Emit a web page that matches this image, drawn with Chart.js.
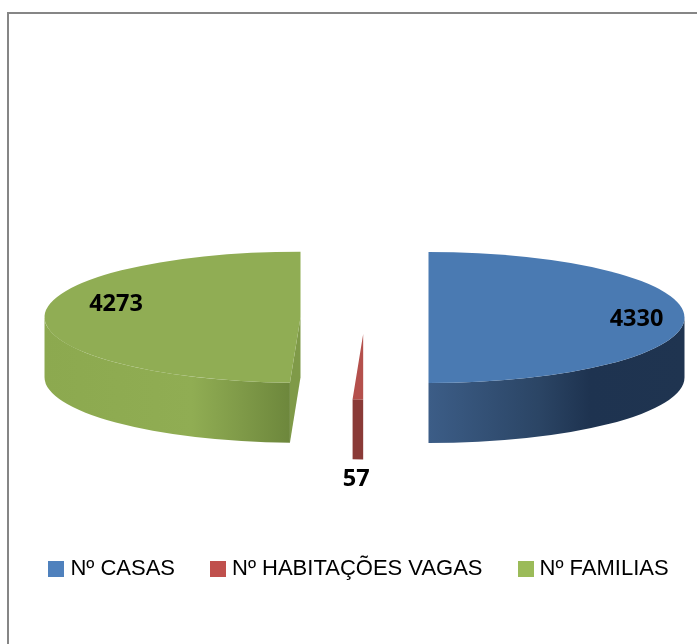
<!DOCTYPE html>
<html>
<head>
<meta charset="utf-8">
<title>Casas, habitações vagas e famílias</title>
<script src="https://cdn.jsdelivr.net/npm/chart.js@4"></script>
<style>
  html, body { margin: 0; padding: 0; background: #fff; overflow: hidden; }
  #frame { position: absolute; left: 7px; top: 12px; width: 720px; height: 680px; border: 2px solid #868686; }
  canvas { position: absolute; left: 0; top: 0; }
</style>
</head>
<body>
<div id="frame"></div>
<canvas id="pie3d" width="697" height="644"></canvas>
<script>
const categories = ['Nº CASAS', 'Nº HABITAÇÕES VAGAS', 'Nº FAMILIAS'];
const values = [4330, 57, 4273];

const topColors = ['#4a7ab2', '#b4504c', '#90ad54'];
const legendColors = ['#4f81bd', '#c0504d', '#9bbb59'];

// side wall shading, left to right
const sideStops = [
  [[0, '#3c5d87'], [0.43, '#2b4565'], [0.63, '#1e3350'], [1, '#1f3450']],
  [[0, '#8a3a37'], [1, '#8a3a37']],
  [[0, '#8ca94f'], [0.6, '#90ad53'], [0.8, '#7f9a48'], [1, '#6d873c']]
];
const cutColor = '#7f9a48';

const tilt = 0.256;   // how flat the disc looks
const depth = 60;     // wall height in px
const explode = 64;   // slices pushed out from the centre
const pieShift = 16;  // pie sits right of the canvas centre
const legendShift = 12.5;

// label nudge from the slice's own centre, px
const labelShift = [[208, 1.5], [-7, 145], [-184.5, -13]];

// legend swatch as an image: the built-in box leaves too wide a gap before the text
function swatch(color) {
  const c = document.createElement('canvas');
  c.width = 16;
  c.height = 16;
  const g = c.getContext('2d');
  g.fillStyle = color;
  g.fillRect(0, 0, 16, 16);
  return c;
}

function sliceGeometry(chart, arc) {
  const base = (chart.chartArea.top + chart.chartArea.bottom) / 2;
  return {
    cx: arc.x,
    cy: base + (arc.y - base) * tilt,
    r: arc.outerRadius,
    start: arc.startAngle,
    end: arc.endAngle
  };
}

const pie3d = {
  id: 'pie3d',
  afterLayout(chart) {
    chart.legend.left += legendShift;
    chart.legend.right += legendShift;
  },
  afterDatasetsUpdate(chart) {
    // explode here: the arc "offset" option eats into small slices
    chart.getDatasetMeta(0).data.forEach(arc => {
      const mid = (arc.startAngle + arc.endAngle) / 2;
      arc.x += pieShift + Math.cos(mid) * explode;
      arc.y += Math.sin(mid) * explode;
    });
  },
  beforeDatasetsDraw(chart) {
    const ctx = chart.ctx;
    const arcs = chart.getDatasetMeta(0).data;
    arcs.forEach((arc, i) => {
      const g = sliceGeometry(chart, arc);
      const from = Math.max(g.start, 0);
      const to = Math.min(g.end, Math.PI);

      const x0 = g.cx + Math.cos(to) * g.r;
      const x1 = g.cx + Math.cos(from) * g.r;
      const grad = ctx.createLinearGradient(x0, 0, x1, 0);
      sideStops[i].forEach(s => grad.addColorStop(s[0], s[1]));

      // cut face, only the one turned to the viewer
      if (Math.cos(g.start) < -0.001 && Math.sin(g.start) > 0) {
        const ex = g.cx + Math.cos(g.start) * g.r;
        const ey = g.cy + Math.sin(g.start) * g.r * tilt;
        ctx.fillStyle = cutColor;
        ctx.beginPath();
        ctx.moveTo(g.cx, g.cy);
        ctx.lineTo(ex, ey);
        ctx.lineTo(ex, ey + depth);
        ctx.lineTo(g.cx, g.cy + depth);
        ctx.closePath();
        ctx.fill();
      }

      ctx.fillStyle = grad;
      ctx.beginPath();
      ctx.ellipse(g.cx, g.cy, g.r, g.r * tilt, 0, from, to);
      ctx.ellipse(g.cx, g.cy + depth, g.r, g.r * tilt, 0, to, from, true);
      ctx.closePath();
      ctx.fill();
    });

    // flatten the library's own arcs
    const base = (chart.chartArea.top + chart.chartArea.bottom) / 2;
    ctx.save();
    ctx.translate(0, base);
    ctx.scale(1, tilt);
    ctx.translate(0, -base);
  },
  afterDatasetsDraw(chart) {
    const ctx = chart.ctx;
    ctx.restore();

    ctx.save();
    ctx.font = 'bold 23.5px "Open Sans"';
    ctx.fillStyle = '#000';
    ctx.textAlign = 'center';
    ctx.textBaseline = 'middle';
    chart.getDatasetMeta(0).data.forEach((arc, i) => {
      const g = sliceGeometry(chart, arc);
      ctx.fillText(String(values[i]), g.cx + labelShift[i][0], g.cy + labelShift[i][1]);
    });
    ctx.restore();
  }
};

new Chart(document.getElementById('pie3d'), {
  type: 'pie',
  data: {
    labels: categories,
    datasets: [{
      data: values,
      backgroundColor: topColors,
      borderWidth: 0
    }]
  },
  options: {
    responsive: false,
    animation: false,
    events: [],
    radius: 256,
    layout: { padding: { top: 117, bottom: 54 } },
    plugins: {
      tooltip: { enabled: false },
      legend: {
        position: 'bottom',
        labels: {
          usePointStyle: true,
          pointStyleWidth: 6,
          padding: 40,
          color: '#000',
          font: { family: '"Liberation Sans"', size: 22 },
          generateLabels: () => categories.map((text, i) => ({
            text,
            pointStyle: swatch(legendColors[i]),
            fillStyle: legendColors[i],
            strokeStyle: legendColors[i],
            lineWidth: 0,
            index: i
          }))
        }
      }
    }
  },
  plugins: [pie3d]
});
</script>
</body>
</html>
